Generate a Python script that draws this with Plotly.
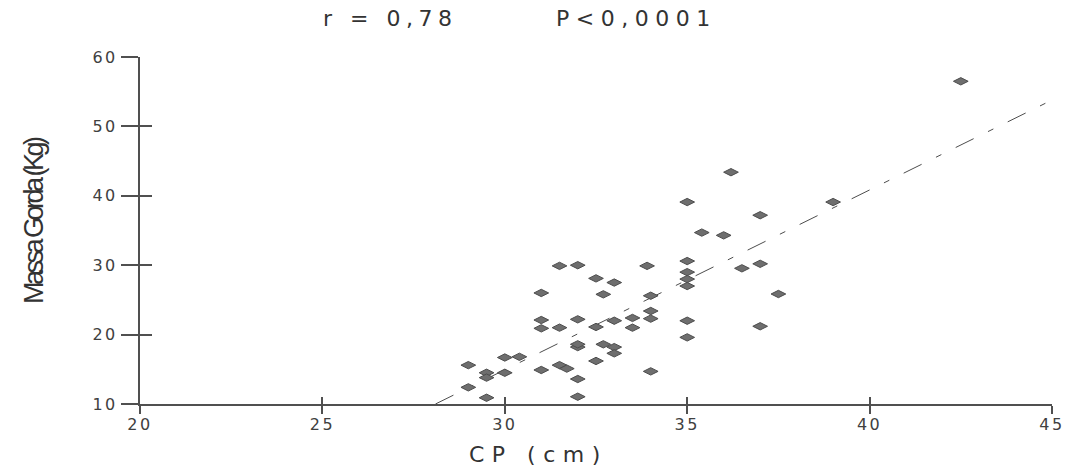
import plotly.graph_objects as go

# Data
cp_cm = [31.5, 32.0, 33.9, 35.0, 32.5, 33.0, 35.0, 35.0, 35.0, 31.0,
         32.7, 34.0, 34.0, 34.0, 31.0, 32.0, 33.0, 33.5, 33.5, 35.0,
         31.0, 31.5, 32.5, 35.0, 32.0, 32.0, 32.7, 33.0, 33.0, 30.0,
         30.4, 32.5, 29.0, 31.5, 31.7, 31.0, 34.0, 29.5, 30.0, 29.5,
         32.0, 29.0, 29.5, 32.0, 36.5, 36.2, 35.0, 37.0, 35.4, 36.0,
         37.0, 37.5, 39.0, 37.0, 42.5]
massa_gorda = [29.9, 30.0, 29.9, 30.6, 28.1, 27.5, 29.0, 28.0, 27.0, 26.0,
               25.8, 25.6, 23.4, 22.3, 22.1, 22.2, 22.0, 22.4, 21.0, 22.0,
               20.9, 21.0, 21.1, 19.6, 18.2, 18.6, 18.6, 18.2, 17.3, 16.7,
               16.8, 16.2, 15.6, 15.6, 15.1, 14.9, 14.7, 14.5, 14.5, 13.8,
               13.6, 12.4, 10.9, 11.05, 29.55, 43.4, 39.1, 37.2, 34.7, 34.3,
               30.2, 25.85, 39.1, 21.2, 56.5]
fit_x = [28.1, 45.0]
fit_y = [10.0, 53.8]
x_ticks = [20, 25, 30, 35, 40, 45]
y_ticks = [10, 20, 30, 40, 50, 60]

AX = "#505050"
TXT = "#404040"
FONT = "Liberation Sans, Arial, sans-serif"
WIDE = "DejaVu Sans, sans-serif"


def spaced(t, ls):
    return f'<span style="letter-spacing:{ls}px">{t}</span>'


fig = go.Figure()
fig.add_trace(go.Scatter(
    x=fit_x, y=fit_y, mode="lines",
    line=dict(color="#4d4d4d", width=1, dash="20px,16px,6px,16px"),
    hoverinfo="skip", showlegend=False))
fig.add_trace(go.Scatter(
    x=cp_cm, y=massa_gorda, mode="markers",
    marker=dict(symbol="diamond-wide", size=10.5, color="#6e6e6e",
                line=dict(color="#4d4d4d", width=1)),
    showlegend=False))
# invisible trace for the overlay axes (inner tick halves)
fig.add_trace(go.Scatter(x=[20], y=[10], xaxis="x2", yaxis="y2",
                         mode="markers", marker=dict(opacity=0),
                         hoverinfo="skip", showlegend=False))

fig.update_layout(
    width=1069, height=468,
    margin=dict(l=140, r=17, t=57, b=64),
    paper_bgcolor="white", plot_bgcolor="white",
    font=dict(family=FONT, color=TXT),
    xaxis=dict(range=[20, 45], tickvals=x_ticks,
               ticktext=[spaced(str(v), 2.5) for v in x_ticks],
               automargin=False, ticklabelstandoff=-3,
               showgrid=False, zeroline=False,
               showline=True, linecolor=AX, linewidth=2,
               ticks="outside", ticklen=8, tickwidth=2, tickcolor=AX,
               tickfont=dict(size=16, color=TXT, family=WIDE)),
    yaxis=dict(range=[10, 60], tickvals=y_ticks,
               ticktext=[spaced(str(v), 2.5) for v in y_ticks],
               automargin=False,
               showgrid=False, zeroline=False,
               showline=True, linecolor=AX, linewidth=2,
               ticks="outside", ticklen=17, tickwidth=1.5, tickcolor=AX,
               tickfont=dict(size=16, color=TXT, family=WIDE)),
    xaxis2=dict(range=[20, 45], overlaying="x", anchor="y", tickvals=x_ticks,
                automargin=False,
                showticklabels=False, showgrid=False, zeroline=False,
                showline=False, ticks="inside", ticklen=7, tickwidth=2,
                tickcolor=AX),
    yaxis2=dict(range=[10, 60], overlaying="y", anchor="x", side="left",
                automargin=False,
                tickvals=y_ticks, showticklabels=False, showgrid=False,
                zeroline=False, showline=False, ticks="inside", ticklen=12,
                tickwidth=1.5, tickcolor=AX),
    annotations=[
        dict(text=spaced("r = 0,78", 5.5), xref="paper", yref="paper",
             x=(390 - 140) / 912, y=(404 - 18) / 347, showarrow=False,
             xanchor="center", yanchor="middle",
             font=dict(size=22, color="#333333", family=WIDE)),
        dict(text=spaced("P<0,0001", 6.5), xref="paper", yref="paper",
             x=(636 - 140) / 912, y=(404 - 18) / 347, showarrow=False,
             xanchor="center", yanchor="middle",
             font=dict(size=22, color="#333333", family=WIDE)),
        dict(text=spaced("CP (cm)", 7.5), xref="paper", yref="paper",
             x=(538 - 140) / 912, y=(404 - 455) / 347, showarrow=False,
             xanchor="center", yanchor="middle",
             font=dict(size=22, color="#333333", family=WIDE)),
        dict(text=spaced("Massa Gorda (Kg)", -3.5), xref="paper", yref="paper",
             x=(34 - 140) / 912, y=(404 - 221) / 347, showarrow=False,
             xanchor="center", yanchor="middle", textangle=-90,
             font=dict(size=27, color="#333333",
                       family="Liberation Sans Narrow, Arial Narrow, Liberation Sans, sans-serif")),
    ],
)

fig.write_html("out.html")
